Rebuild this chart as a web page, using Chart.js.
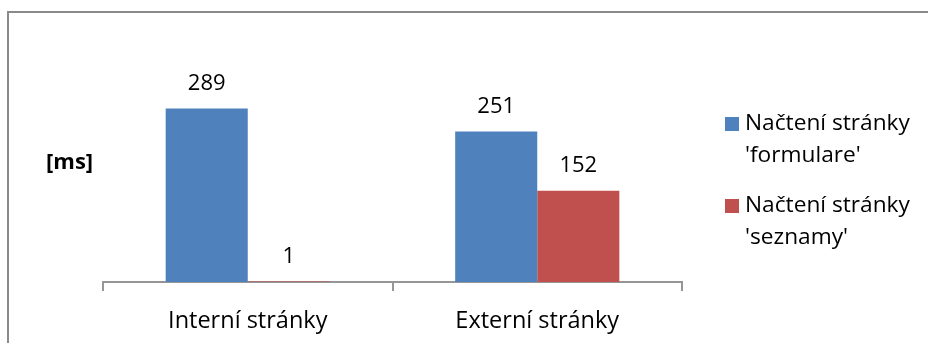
<!DOCTYPE html>
<html>
<head>
<meta charset="utf-8">
<script src="https://cdn.jsdelivr.net/npm/chart.js@4/dist/chart.umd.min.js"></script>
<style>
  html, body { margin: 0; padding: 0; background: #fff; }
  #wrap { position: relative; width: 928px; height: 343px; overflow: hidden; }
  #frame { position: absolute; left: 7px; top: 11px; width: 1000px; height: 400px;
           border-left: 2px solid #8a8a8a; border-top: 2px solid #8a8a8a; }
  canvas { position: absolute; left: 0; top: 0; }
</style>
</head>
<body>
<div id="wrap">
  <div id="frame"></div>
  <canvas id="c" width="928" height="343"></canvas>
</div>
<script>
// Page load times in milliseconds
const categories = ['Interní stránky', 'Externí stránky'];
const seriesNames = [["Načtení stránky", "'formulare'"], ["Načtení stránky", "'seznamy'"]];
const formulareValues = [289, 251];
const seznamyValues = [1, 152];
const axisUnit = '[ms]';

const FONT = '"Open Sans", Lato, sans-serif';
const colors = ['#4F81BD', '#C0504D'];

// Value labels above every bar
const valueLabels = {
  id: 'valueLabels',
  afterDatasetsDraw(chart) {
    const ctx = chart.ctx;
    ctx.save();
    ctx.font = '22px ' + FONT;
    ctx.fillStyle = '#000';
    ctx.textAlign = 'center';
    ctx.textBaseline = 'middle';
    chart.data.datasets.forEach((ds, i) => {
      chart.getDatasetMeta(i).data.forEach((bar, j) => {
        ctx.fillText(String(ds.data[j]), bar.x, bar.y - 25);
      });
    });
    ctx.restore();
  }
};

// Unit caption and the legend on the right
const sideTexts = {
  id: 'sideTexts',
  afterDraw(chart) {
    const ctx = chart.ctx;
    ctx.save();
    ctx.fillStyle = '#000';
    ctx.textBaseline = 'middle';
    ctx.textAlign = 'left';
    ctx.font = 'bold 22px ' + FONT;
    ctx.fillText(axisUnit, 46, 163);

    ctx.font = '22.7px ' + FONT;
    const rows = [124, 206];
    chart.data.datasets.forEach((ds, i) => {
      const y = rows[i];
      ctx.fillStyle = ds.backgroundColor;
      ctx.fillRect(725, y - 7, 14, 14);
      ctx.fillStyle = '#000';
      ds.label.forEach((line, k) => ctx.fillText(line, 745, y + k * 32));
    });
    ctx.restore();
  }
};

new Chart(document.getElementById('c'), {
  type: 'bar',
  data: {
    labels: categories,
    datasets: [
      { label: seriesNames[0], data: formulareValues, backgroundColor: colors[0] },
      { label: seriesNames[1], data: seznamyValues, backgroundColor: colors[1] }
    ]
  },
  options: {
    responsive: false,
    animation: false,
    devicePixelRatio: 1,
    layout: { padding: { left: 103, right: 246, top: 72, bottom: 1 } },
    datasets: { bar: { categoryPercentage: 0.567, barPercentage: 1.0 } },
    plugins: { legend: { display: false }, tooltip: { enabled: false } },
    scales: {
      x: {
        afterFit(scale) { scale.height = 60; },
        grid: { display: true, drawOnChartArea: false, drawTicks: true, tickLength: 9, lineWidth: 2, color: '#969696', offset: true },
        border: { display: true, color: '#969696', width: 2 },
        ticks: { font: { family: FONT, size: 23.5 }, color: '#000', padding: 16, maxRotation: 0 }
      },
      y: { display: false, min: 0, max: 350 }
    }
  },
  plugins: [valueLabels, sideTexts]
});
</script>
</body>
</html>
